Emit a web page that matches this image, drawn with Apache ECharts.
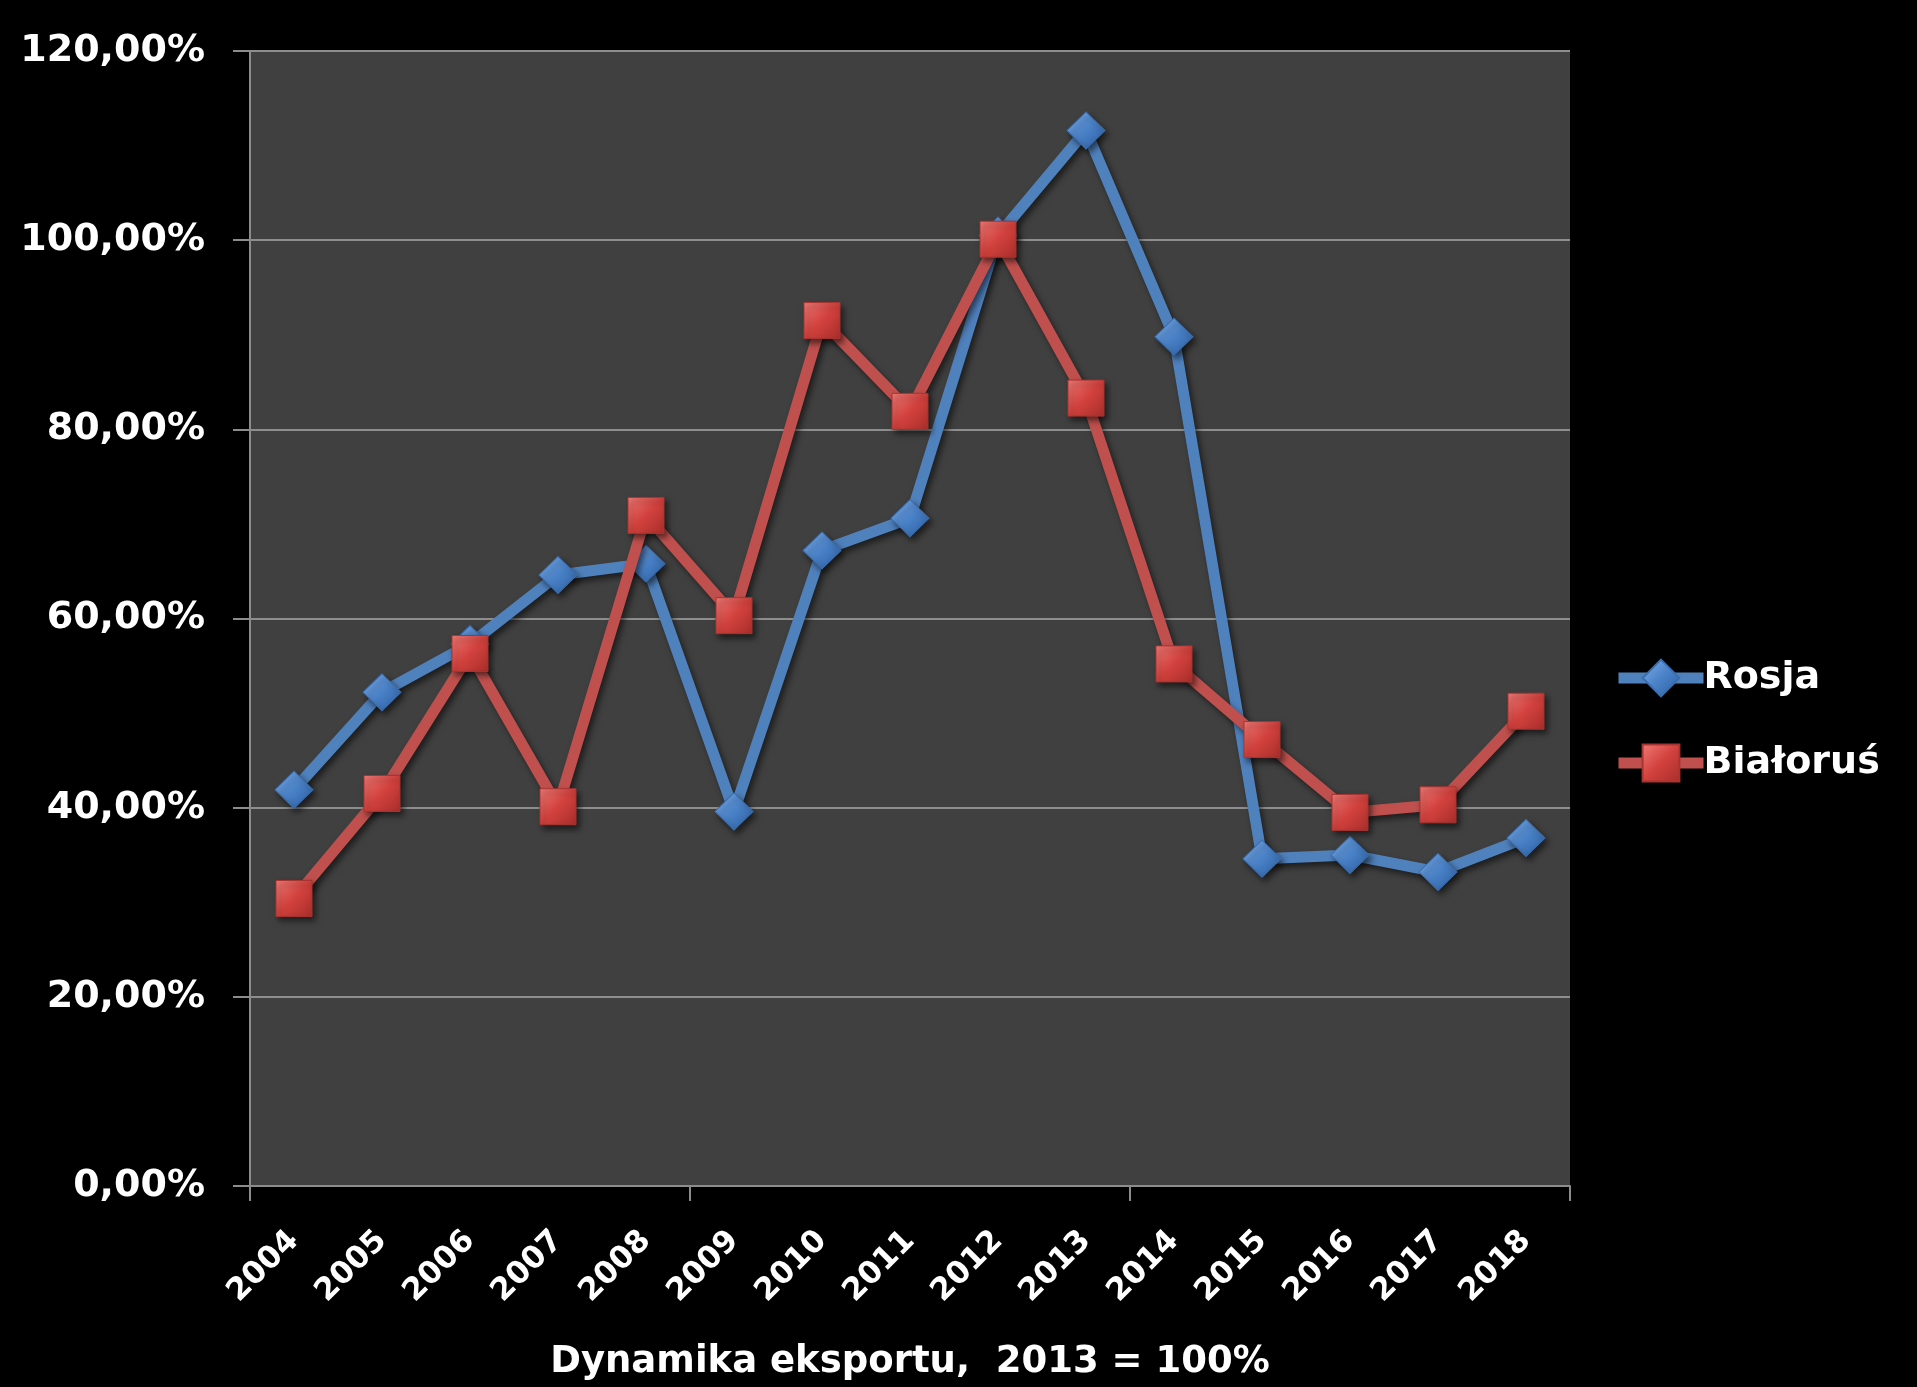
<!DOCTYPE html>
<html>
<head>
<meta charset="utf-8">
<script src="https://cdn.jsdelivr.net/npm/echarts@6/dist/echarts.min.js"></script>
<style>
html,body{margin:0;padding:0;background:#000;}
#c{width:1917px;height:1387px;}
</style>
</head>
<body>
<div id="c"></div>
<script>
const years = ['2004','2005','2006','2007','2008','2009','2010','2011','2012','2013','2014','2015','2016','2017','2018'];
const rosja = [41.9, 52.2, 57.3, 64.6, 65.8, 39.6, 67.2, 70.6, 100.5, 111.6, 89.8, 34.6, 35.0, 33.2, 36.8];
const bialorus = [30.4, 41.5, 56.3, 40.1, 70.9, 60.3, 91.5, 81.9, 100.1, 83.3, 55.2, 47.2, 39.5, 40.3, 50.2];
const seriesNames = ['Rosja', 'Białoruś'];
const axisTitle = 'Dynamika eksportu,  2013 = 100%';

const FONT = '"DejaVu Sans", sans-serif';
const chart = echarts.init(document.getElementById('c'), null, {renderer: 'canvas'});

function grad(light, mid, dark) {
  return new echarts.graphic.LinearGradient(0, 0, 1, 1, [
    {offset: 0, color: light},
    {offset: 0.5, color: mid},
    {offset: 1, color: dark}
  ]);
}

chart.setOption({
  backgroundColor: '#000',
  animation: false,
  grid: {
    left: 250, right: 347, top: 51, bottom: 201,
    show: true, backgroundColor: '#404040', borderWidth: 0
  },
  legend: {
    orient: 'vertical',
    left: 1608, top: 650,
    itemWidth: 85, itemHeight: 46, itemGap: 39,
    lineStyle: {width: 11},
    textStyle: {color: '#fff', fontSize: 38, fontWeight: 'bold', fontFamily: FONT, lineHeight: 46, padding: [0,0,0,-5]},
    data: seriesNames
  },
  xAxis: {
    type: 'category',
    data: years,
    boundaryGap: true,
    name: axisTitle,
    nameLocation: 'middle',
    nameGap: 158,
    nameTextStyle: {color: '#fff', fontSize: 37, fontWeight: 'bold', fontFamily: FONT},
    axisLine: {show: true, lineStyle: {color: '#8c8c8c', width: 2}},
    axisTick: {show: true, interval: function (i) { return i % 5 === 0; }, length: 15, lineStyle: {color: '#8c8c8c', width: 2}},
    axisLabel: {interval: 0, rotate: 45, margin: 50, color: '#fff', fontSize: 31, fontWeight: 'bold', fontFamily: FONT},
    splitLine: {show: false}
  },
  yAxis: {
    type: 'value',
    min: 0, max: 120, interval: 20,
    axisLine: {show: true, lineStyle: {color: '#8c8c8c', width: 2}},
    axisTick: {show: true, length: 17, lineStyle: {color: '#8c8c8c', width: 2}},
    axisLabel: {
      margin: 45, color: '#fff', fontSize: 38, fontWeight: 'bold', fontFamily: FONT,
      formatter: v => v.toFixed(2).replace('.', ',') + '%'
    },
    splitLine: {show: true, lineStyle: {color: '#8e8e8e', width: 2}}
  },
  series: [
    {
      name: seriesNames[0],
      type: 'line',
      data: rosja,
      symbol: 'diamond',
      symbolSize: [38, 37],
      showAllSymbol: true,
      z: 2,
      lineStyle: {color: '#4F81BD', width: 11, shadowColor: 'rgba(0,0,0,0.55)', shadowBlur: 6, shadowOffsetX: 3, shadowOffsetY: 4},
      itemStyle: {
        color: grad('#7FB0EE', '#4A82C8', '#2A5C9E'),
        borderColor: '#3A6DAE', borderWidth: 1,
        shadowColor: 'rgba(0,0,0,0.55)', shadowBlur: 6, shadowOffsetX: 3, shadowOffsetY: 4
      }
    },
    {
      name: seriesNames[1],
      type: 'line',
      data: bialorus,
      symbol: 'rect',
      symbolSize: 36,
      showAllSymbol: true,
      z: 3,
      lineStyle: {color: '#C0504D', width: 11, shadowColor: 'rgba(0,0,0,0.55)', shadowBlur: 6, shadowOffsetX: 3, shadowOffsetY: 4},
      itemStyle: {
        color: grad('#F07A76', '#D2413D', '#A82E2B'),
        borderColor: '#A83431', borderWidth: 1,
        shadowColor: 'rgba(0,0,0,0.55)', shadowBlur: 6, shadowOffsetX: 3, shadowOffsetY: 4
      }
    }
  ]
});
</script>
</body>
</html>
